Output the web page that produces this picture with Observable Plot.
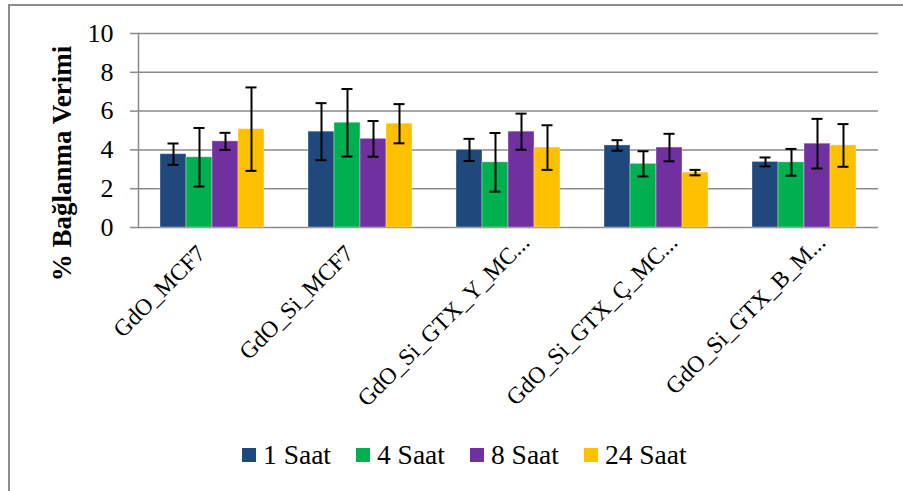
<!DOCTYPE html>
<html>
<head>
<meta charset="utf-8">
<script src="https://cdn.jsdelivr.net/npm/d3@7"></script>
<script src="https://cdn.jsdelivr.net/npm/@observablehq/plot@0.6"></script>
<style>
  html, body { margin: 0; padding: 0; background: #fff; }
  #chart { position: relative; width: 903px; height: 491px; overflow: hidden; font-family: "Liberation Serif", serif; }
  #chart svg { position: absolute; left: 0; top: 0; }
  #edge { position: absolute; left: 8px; top: 4px; width: 1000px; height: 1000px;
          border-left: 2px solid #8c8c8c; border-top: 2px solid #8c8c8c; }
  #legend { position: absolute; left: 242px; top: 439px; display: flex; align-items: center; gap: 25px; }
  #legend .item { display: flex; align-items: center; font-size: 27.5px; color: #000; }
  #legend .sw { width: 14px; height: 14px; margin-right: 7px; }
</style>
</head>
<body>
<div id="chart"><div id="edge"></div><div id="legend"></div></div>
<script>
// Sample groups (x axis) and incubation times (series)
const groups = ["GdO_MCF7", "GdO_Si_MCF7", "GdO_Si_GTX_Y_MC...", "GdO_Si_GTX_Ç_MC...", "GdO_Si_GTX_B_M..."];
const series = ["1 Saat", "4 Saat", "8 Saat", "24 Saat"];
const colors = ["#1F497D", "#00B050", "#7030A0", "#FFC000"];

// Mean binding efficiency (%) per series, one value per group
const saat1  = [3.78, 4.94, 4.00, 4.23, 3.38];
const saat4  = [3.62, 5.40, 3.36, 3.28, 3.36];
const saat8  = [4.44, 4.57, 4.94, 4.12, 4.32];
const saat24 = [5.07, 5.35, 4.12, 2.83, 4.23];

// Error (± deviation) per series, one value per group
const err1  = [0.55, 1.47, 0.57, 0.27, 0.23];
const err4  = [1.51, 1.74, 1.51, 0.65, 0.69];
const err8  = [0.44, 0.92, 0.93, 0.71, 1.28];
const err24 = [2.15, 1.01, 1.15, 0.14, 1.10];

const yTicks = [0, 2, 4, 6, 8, 10];
const yTitle = "% Bağlanma Verimi";

const means = [saat1, saat4, saat8, saat24];
const errs = [err1, err4, err8, err24];
const rows = [];
groups.forEach((g, i) => series.forEach((s, j) => {
  rows.push({group: g, series: s, value: means[j][i], err: errs[j][i]});
}));

// Shortened (ellipsized) group labels sit a little further out than the full ones
const fullLabels = groups.filter(g => !g.endsWith("..."));
const shortLabels = groups.filter(g => g.endsWith("..."));

const grid = "#8a8a8a";
const labelStyle = {anchor: "bottom", tickRotate: -45, tickSize: 0, tickPadding: 12, fill: "#000", fontSize: 23.5, label: null};

const plot = Plot.plot({
  width: 903,
  height: 420,
  marginLeft: 136,
  marginRight: 24,
  marginTop: 33,
  marginBottom: 193,
  style: {fontFamily: "Liberation Serif, serif", fontSize: "25px", color: "#000", background: "transparent"},
  fx: {domain: groups, padding: 0, label: null},
  x: {domain: series, paddingInner: 0, paddingOuter: 0.756, axis: null},
  y: {domain: [0, 10], label: null},
  color: {domain: series, range: colors},
  marks: [
    Plot.ruleY(yTicks, {stroke: grid, strokeWidth: 1.5}),
    Plot.frame({anchor: "left", facetAnchor: "left", stroke: grid, strokeWidth: 1.5}),
    Plot.axisY({ticks: yTicks, tickSize: 8, tickPadding: 17, stroke: grid, strokeWidth: 1.5, fill: "#000", fontSize: 26, label: null}),
    Plot.axisFx({...labelStyle, ticks: fullLabels, dx: -11, dy: 10}),
    Plot.axisFx({...labelStyle, ticks: shortLabels, dx: 17, dy: -1}),
    Plot.barY(rows, {fx: "group", x: "series", y: "value", fill: "series", stroke: "#fff", strokeOpacity: 0.35, strokeWidth: 1}),
    Plot.ruleX(rows, {fx: "group", x: "series", y1: d => d.value - d.err, y2: d => d.value + d.err, stroke: "#000", strokeWidth: 2}),
    Plot.tickY(rows, {fx: "group", x: "series", y: d => d.value + d.err, insetLeft: 7.5, insetRight: 7.5, stroke: "#000", strokeWidth: 2}),
    Plot.tickY(rows, {fx: "group", x: "series", y: d => d.value - d.err, insetLeft: 7.5, insetRight: 7.5, stroke: "#000", strokeWidth: 2}),
    Plot.text([yTitle], {text: d => d, frameAnchor: "left", facetAnchor: "left", textAnchor: "middle", rotate: -90,
                         dx: -76, dy: 33, fontSize: 27, fontWeight: "bold", fill: "#000"})
  ]
});
document.getElementById("chart").appendChild(plot);

// Legend below the chart
const legend = d3.select("#legend");
series.forEach((s, i) => {
  const item = legend.append("div").attr("class", "item");
  item.append("div").attr("class", "sw").style("background", colors[i]);
  item.append("span").text(s);
});
</script>
</body>
</html>
